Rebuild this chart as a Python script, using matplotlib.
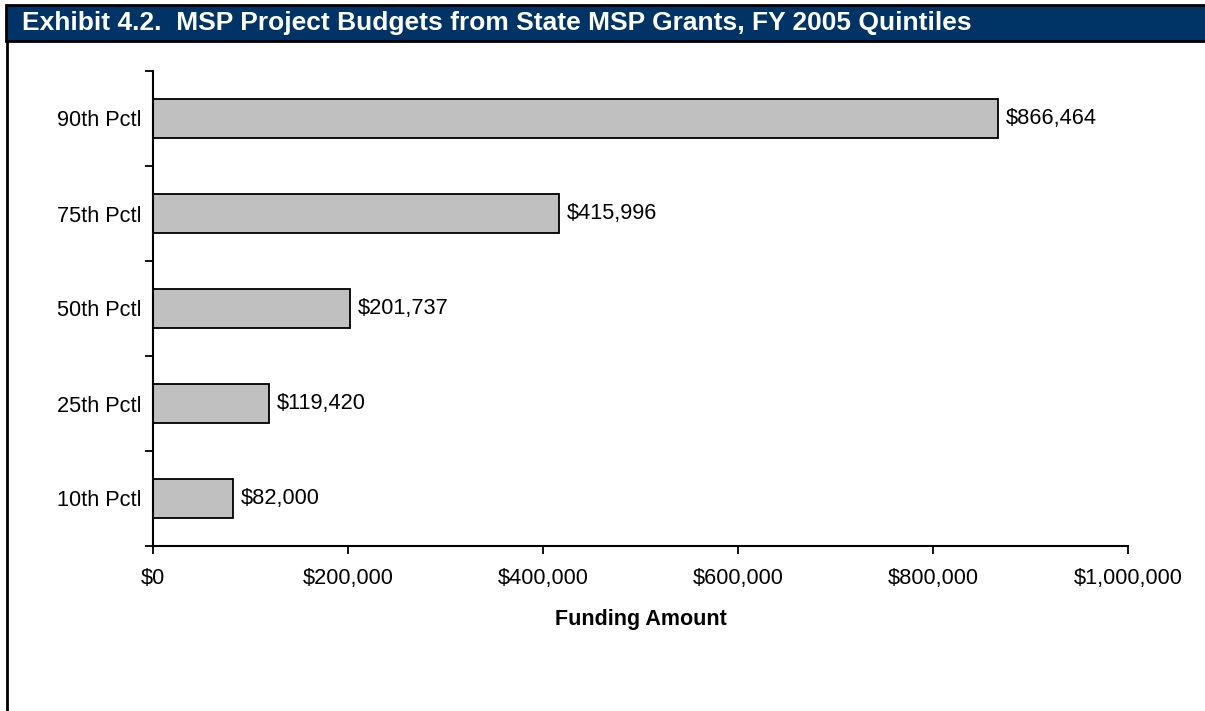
import matplotlib.pyplot as plt
import matplotlib.patches as mpatches
from matplotlib.ticker import FuncFormatter, FixedLocator

# Data
categories = ["10th Pctl", "25th Pctl", "50th Pctl", "75th Pctl", "90th Pctl"]
amounts = [82000, 119420, 201737, 415996, 866464]
x_ticks = [0, 200000, 400000, 600000, 800000, 1000000]

plt.rcParams["font.family"] = ["Liberation Sans", "DejaVu Sans"]

W, H = 1205, 711
fig = plt.figure(figsize=(W / 100, H / 100), dpi=100)

# -----------------------------
# Frame and title bar
# -----------------------------
fig.patches.append(mpatches.Rectangle(
    (6 / W, 1 - 41 / H), (W + 10) / W, 36 / H,
    transform=fig.transFigure, facecolor="#003366",
    edgecolor="black", linewidth=2, zorder=0))
fig.lines.append(plt.Line2D([7 / W, 7 / W], [0, 1 - 41 / H],
                            transform=fig.transFigure, color="black", lw=2))
fig.text(22 / W, 1 - 23 / H,
         "Exhibit 4.2.  MSP Project Budgets from State MSP Grants, FY 2005 Quintiles",
         color="white", fontsize=19, fontweight="bold", va="center", ha="left")

# -----------------------------
# Bars
# -----------------------------
ax = fig.add_axes([153 / W, 1 - 546 / H, (1128 - 153) / W, (546 - 71) / H])
pos = list(range(len(categories)))
ax.barh(pos, amounts, height=0.42, color="#C0C0C0",
        edgecolor="black", linewidth=1.3)

for p, v in zip(pos, amounts):
    ax.text(v + 8000, p, f"${v:,.0f}", va="center", ha="left", fontsize=15.7)

ax.set_xlim(0, 1000000)
ax.set_ylim(-0.5, len(categories) - 0.5)

ax.set_xticks(x_ticks)
ax.xaxis.set_major_formatter(FuncFormatter(lambda v, _: f"${v:,.0f}"))
ax.tick_params(axis="x", direction="out", length=6, width=1.3,
               labelsize=15.7, pad=10)

ax.yaxis.set_major_locator(FixedLocator([i - 0.5 for i in range(len(categories) + 1)]))
ax.yaxis.set_major_formatter(FuncFormatter(lambda v, _: ""))
ax.yaxis.set_minor_locator(FixedLocator(pos))
ax.set_yticklabels(categories, minor=True)
ax.tick_params(axis="y", which="major", direction="out", length=6, width=1.3)
ax.tick_params(axis="y", which="minor", length=0, labelsize=15.7, pad=8)

for s in ["top", "right"]:
    ax.spines[s].set_visible(False)
for s in ["left", "bottom"]:
    ax.spines[s].set_linewidth(1.5)

ax.set_xlabel("Funding Amount", fontsize=15.5, fontweight="bold", labelpad=14)

fig.savefig("out.png", dpi=100)
